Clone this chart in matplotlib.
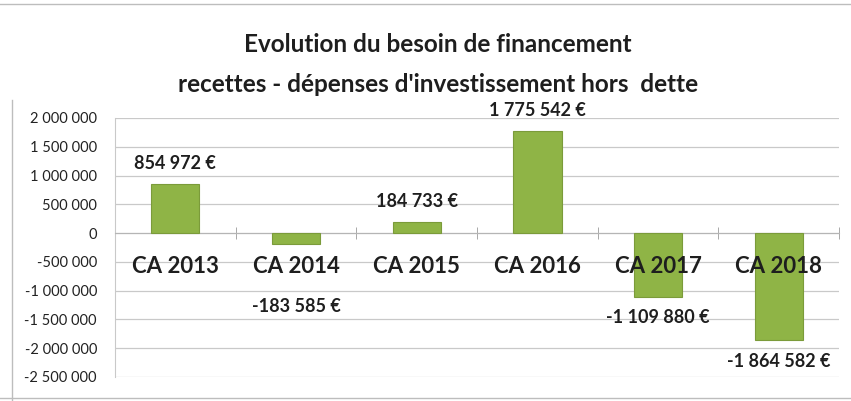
import numpy as np
import matplotlib
matplotlib.use("Agg")
import matplotlib.pyplot as plt
from matplotlib.lines import Line2D

plt.rcParams['font.family'] = ['Lato', 'DejaVu Sans']

# données
categories = ['CA 2013', 'CA 2014', 'CA 2015', 'CA 2016', 'CA 2017', 'CA 2018']
besoin = [854972, -183585, 184733, 1775542, -1109880, -1864582]
yticks = np.arange(-2500000, 2000001, 500000)

# decalage des etiquettes (en points)
label_offsets = [15, -45, 15, 15, -15, -15]

def fmt(v):
    return f"{v:,.0f}".replace(",", " ")

fig = plt.figure(figsize=(8.51, 4.01), dpi=100)
ax = fig.add_axes([0.1351, 0.0599, 0.851, 0.6459])

x = np.arange(len(categories))
ax.bar(x, besoin, width=0.40, color='#8fb446', edgecolor='#7b9b3a', linewidth=0.8, zorder=3)

ax.set_xlim(-0.5, len(categories) - 0.5)
ax.set_ylim(-2500000, 2000000)
ax.set_yticks(yticks)
ax.set_yticklabels([fmt(v) for v in yticks], fontsize=10.5, color='#222222')
ax.tick_params(axis='y', length=0, pad=13)
ax.grid(axis='y', color='#c9c9c9', linewidth=0.9, zorder=0)

# axe des categories sur la ligne zero
ax.spines['bottom'].set_position(('data', 0))
ax.spines['bottom'].set_color('#b5b5b5')
ax.spines['left'].set_color('#c9c9c9')
ax.spines['top'].set_visible(False)
ax.spines['right'].set_visible(False)
ax.set_xticks(x)
ax.set_xticklabels([])
ax.tick_params(axis='x', which='major', length=0)
ax.set_xticks(np.arange(-0.5, len(categories)), minor=True)
ax.tick_params(axis='x', which='minor', direction='inout', length=8, color='#9a9a9a')

# libelles des categories, devant les barres
for i, c in enumerate(categories):
    ax.annotate(c, (i, 0), xytext=(0, -24), textcoords='offset points',
                ha='center', va='center', fontsize=16, fontweight='bold',
                color='#1e1e1e', zorder=5)

for i, v in enumerate(besoin):
    ax.annotate(fmt(v) + " €", (i, v), xytext=(0, label_offsets[i]),
                textcoords='offset points', ha='center', va='center',
                fontsize=13, fontweight='bold', color='#1e1e1e', zorder=4)

fig.text(0.515, 0.888, "Evolution du besoin de financement", ha='center', va='center',
         fontsize=17.5, fontweight='bold', color='#1e1e1e')
fig.text(0.515, 0.79, "recettes - dépenses d'investissement hors  dette", ha='center',
         va='center', fontsize=17.5, fontweight='bold', color='#1e1e1e')

# cadre du graphique
for xs, ys in [([0.0, 1.0], [0.99, 0.99]), ([0.014, 0.014], [0.0, 0.75]),
               ([0.0, 1.0], [0.007, 0.007])]:
    fig.add_artist(Line2D(xs, ys, transform=fig.transFigure, color='#bdbdbd', linewidth=1))

fig.savefig('out.png', dpi=100)
